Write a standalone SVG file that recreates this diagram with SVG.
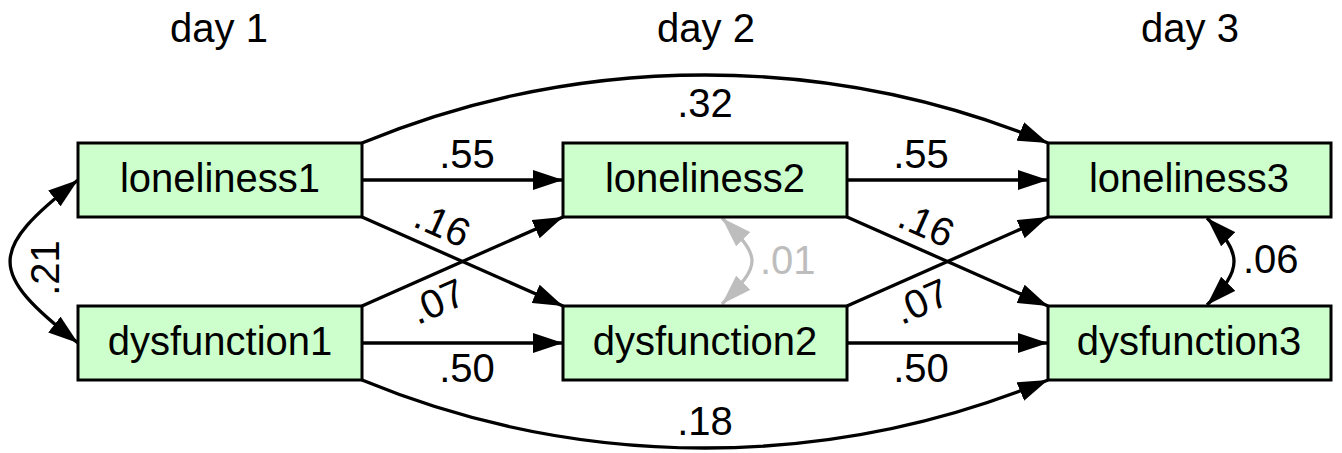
<svg xmlns="http://www.w3.org/2000/svg" width="1342" height="453" viewBox="0 0 1342 453">
<style>
text{font-family:"Liberation Sans",Arial,sans-serif;font-size:40px;fill:#000}
.node rect{fill:#ccffcc;stroke:#000;stroke-width:3}
.node text{text-anchor:middle}
.c{fill:none;stroke:#000;stroke-width:3.3}
.g{fill:none;stroke:#bdbdbd;stroke-width:3.3}
.lbl{text-anchor:middle}
.gl{fill:#bdbdbd}
</style>
<defs>
<marker id="ah" markerUnits="userSpaceOnUse" viewBox="0 0 30 20" markerWidth="30" markerHeight="20" refX="30" refY="10" orient="auto-start-reverse"><path d="M0,0 L30,10 L0,20 z" fill="#000"/></marker>
<marker id="ahg" markerUnits="userSpaceOnUse" viewBox="0 0 30 20" markerWidth="30" markerHeight="20" refX="30" refY="10" orient="auto-start-reverse"><path d="M0,0 L30,10 L0,20 z" fill="#bdbdbd"/></marker>
</defs>
<g id="headers">
<text x="219" y="42" class="lbl">day 1</text>
<text x="706" y="42" class="lbl">day 2</text>
<text x="1190" y="42" class="lbl">day 3</text>
</g>
<g id="connectors">
<path class="c" d="M362,180 L563,180" marker-end="url(#ah)"/>
<path class="c" d="M362,343 L563,343" marker-end="url(#ah)"/>
<path class="c" d="M847,180 L1048,180" marker-end="url(#ah)"/>
<path class="c" d="M847,343 L1048,343" marker-end="url(#ah)"/>
<path class="c" d="M362,217 L563,306" marker-end="url(#ah)"/>
<path class="c" d="M362,306 L563,217" marker-end="url(#ah)"/>
<path class="c" d="M847,217 L1048,306" marker-end="url(#ah)"/>
<path class="c" d="M847,306 L1048,217" marker-end="url(#ah)"/>
<path class="c" d="M362,143 A899,899 0 0 1 1048,143" marker-end="url(#ah)"/>
<path class="c" d="M362,380 A899,899 0 0 0 1048,380" marker-end="url(#ah)"/>
<path class="c" d="M78,180 C-12.6,250.8 -12.6,272.2 78,343" marker-start="url(#ah)" marker-end="url(#ah)"/>
<path class="g" d="M722,218 C762,258 762,264 722,304" marker-start="url(#ahg)" marker-end="url(#ahg)"/>
<path class="c" d="M1207,218 C1243,254 1243,269 1207,305" marker-start="url(#ah)" marker-end="url(#ah)"/>
<text x="467" y="168" class="lbl">.55</text>
<text x="467" y="382" class="lbl">.50</text>
<text x="921" y="168" class="lbl">.55</text>
<text x="921" y="382" class="lbl">.50</text>
<text x="705" y="117" class="lbl">.32</text>
<text x="705" y="435" class="lbl">.18</text>
<text class="lbl" transform="translate(437,237) rotate(24)">.16</text>
<text class="lbl" transform="translate(443,314) rotate(-24)">.07</text>
<text class="lbl" transform="translate(921,237) rotate(24)">.16</text>
<text class="lbl" transform="translate(927,314) rotate(-24)">.07</text>
<text class="lbl" transform="translate(59,268) rotate(-90)">.21</text>
<text x="760" y="274" class="gl">.01</text>
<text x="1243" y="273">.06</text>
</g>
<g id="loneliness1" class="node"><rect x="78" y="143" width="284" height="74"/><text x="220" y="192">loneliness1</text></g>
<g id="dysfunction1" class="node"><rect x="78" y="306" width="284" height="74"/><text x="220" y="355">dysfunction1</text></g>
<g id="loneliness2" class="node"><rect x="563" y="143" width="284" height="74"/><text x="705" y="192">loneliness2</text></g>
<g id="dysfunction2" class="node"><rect x="563" y="306" width="284" height="74"/><text x="705" y="355">dysfunction2</text></g>
<g id="loneliness3" class="node"><rect x="1048" y="143" width="283" height="74"/><text x="1189" y="192">loneliness3</text></g>
<g id="dysfunction3" class="node"><rect x="1048" y="306" width="283" height="74"/><text x="1189" y="355">dysfunction3</text></g>
</svg>
